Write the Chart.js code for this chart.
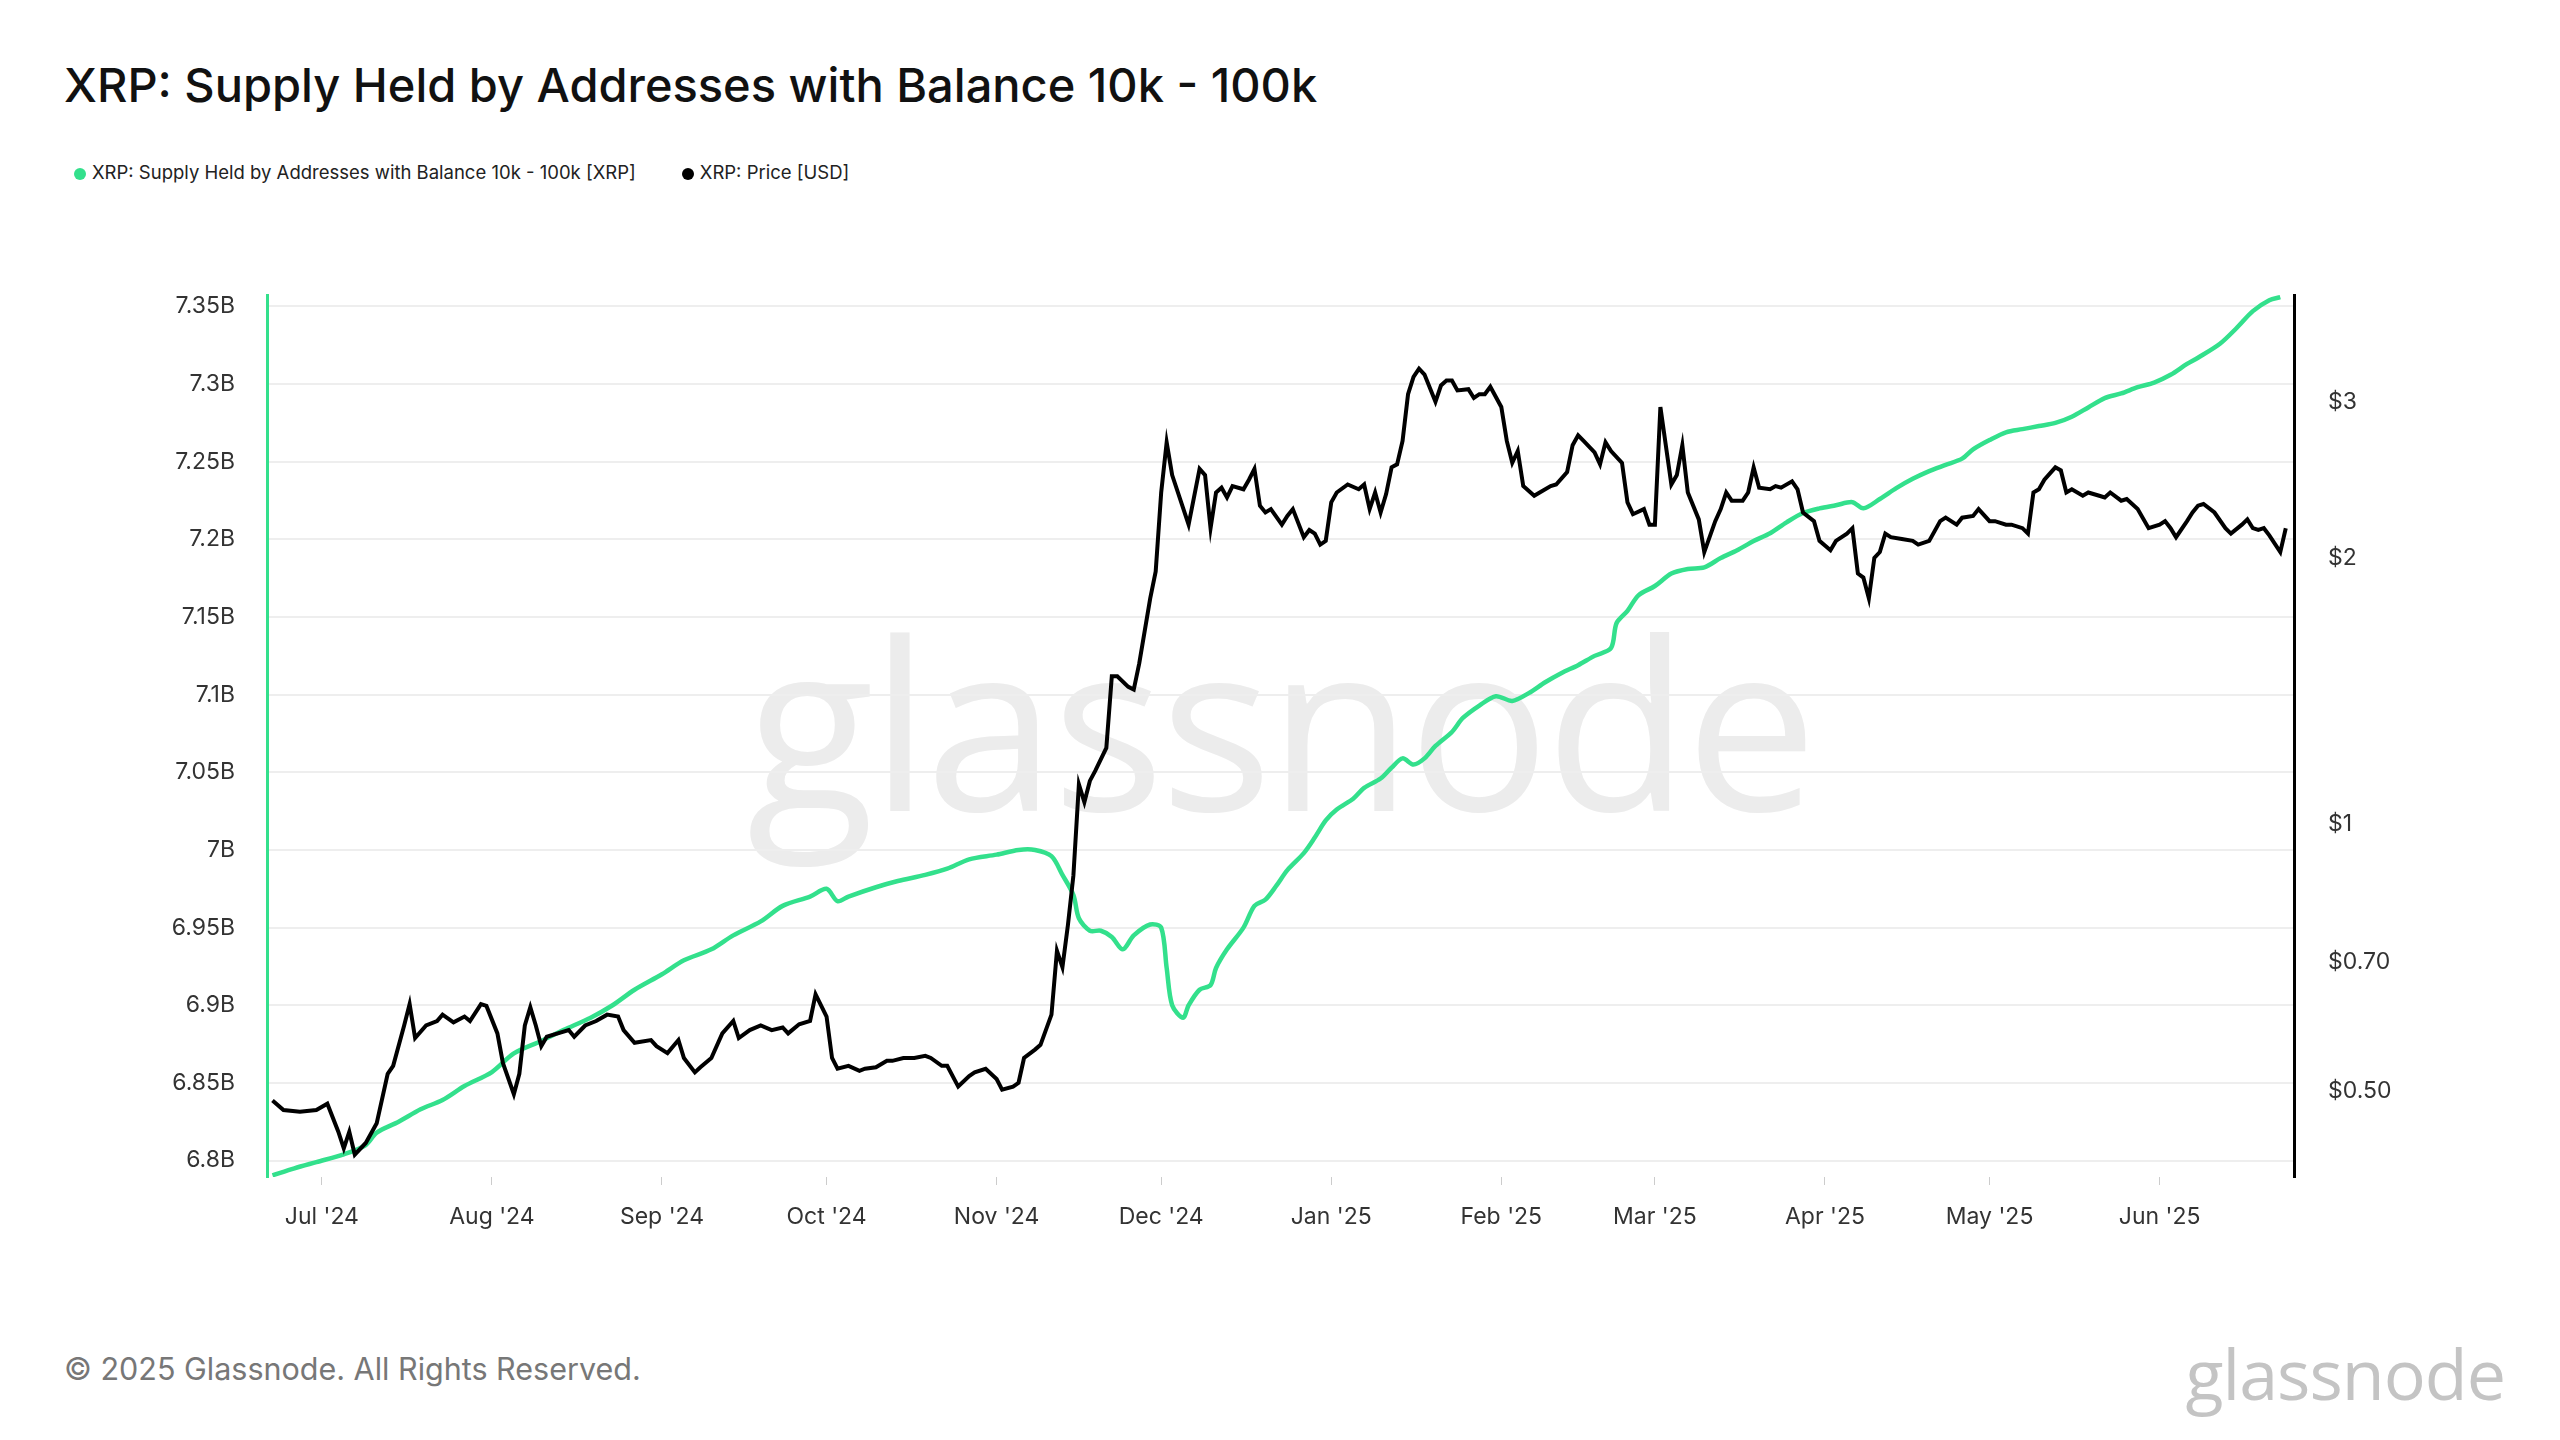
<!DOCTYPE html>
<html><head><meta charset="utf-8">
<script src="https://cdn.jsdelivr.net/npm/chart.js@4/dist/chart.umd.min.js"></script>
<style>
html,body{margin:0;padding:0;background:#fff;width:2560px;height:1440px;overflow:hidden;font-family:Inter,"Liberation Sans",sans-serif;}
#wm{position:absolute;left:0;width:2560px;text-align:center;top:560px;font-size:235px;color:#ececec;font-family:"Open Sans",Inter,sans-serif;letter-spacing:-4px;}
#title{position:absolute;left:64px;top:56px;font-size:47px;color:#111;font-weight:500;}
#legend{position:absolute;left:74px;top:161px;font-size:18.5px;color:#222;}
#legend span.d{display:inline-block;width:12px;height:12px;border-radius:50%;margin-right:6px;vertical-align:-1px;}
#foot{position:absolute;left:64px;top:1350px;font-size:30.5px;color:#777;}
#logo{position:absolute;right:55px;top:1325px;font-size:70px;color:#c4c4c4;font-family:"Open Sans",Inter,sans-serif;letter-spacing:-1px;}
canvas{position:absolute;left:0;top:0;}
</style></head><body>
<div id="wm">glassnode</div>
<div id="title">XRP: Supply Held by Addresses with Balance 10k - 100k</div>
<div id="legend"><span class="d" style="background:#33e08c"></span>XRP: Supply Held by Addresses with Balance 10k - 100k [XRP]<span style="display:inline-block;width:46px"></span><span class="d" style="background:#000"></span>XRP: Price [USD]</div>
<div id="foot">© 2025 Glassnode. All Rights Reserved.</div>
<div id="logo">glassnode</div>
<canvas id="c" width="2560" height="1440"></canvas>
<script>
// x values: days since 2024-07-01
const monthDays = [0,31,62,92,123,153,184,215,243,274,304,335];
const monthLabels = ["Jul '24","Aug '24","Sep '24","Oct '24","Nov '24","Dec '24","Jan '25","Feb '25","Mar '25","Apr '25","May '25","Jun '25"];
const supplyTicks = [6.8,6.85,6.9,6.95,7,7.05,7.1,7.15,7.2,7.25,7.3,7.35];
const priceTicks = [0.5,0.7,1,2,3];
const priceTickLabels = ["$0.50","$0.70","$1","$2","$3"];

const priceDays = [
-9,-7,-4,-1,1,3,4,5,6,8,
10,12,13,15,16,17,19,21,22,24,
26,27,29,30,32,33,35,36,37,38,
39,40,41,43,45,46,48,50,52,54,
55,57,60,61,63,65,66,68,69,71,
73,75,76,78,80,82,84,85,87,89,
90,92,93,94,96,98,99,101,103,104,
106,108,110,111,113,114,116,118,119,121,
123,124,126,127,128,130,131,133,134,135,
136,137,138,139,140,141,143,144,145,147,
148,149,151,152,153,154,155,158,160,161,
162,163,164,165,166,168,169,170,171,172,
173,175,176,177,179,180,181,182,183,184,
185,187,189,190,191,192,193,194,195,196,
197,198,199,200,201,203,204,205,206,207,
209,210,211,212,213,215,216,217,218,219,
221,222,224,225,227,228,229,230,232,233,
234,235,237,238,239,241,242,243,244,246,
247,248,249,251,252,254,255,256,257,259,
260,261,262,264,265,266,268,269,270,272,
273,275,276,278,279,280,281,282,283,284,
285,286,288,290,291,293,295,296,298,299,
301,302,304,305,307,308,310,311,312,313,
314,316,317,318,319,321,322,324,325,326,
328,329,330,331,333,335,336,337,338,340,
341,342,343,345,347,348,350,351,352,353,
354,355,357,358];
const priceUsd = [
0.488,0.476,0.474,0.476,0.484,0.45,0.431,0.45,0.424,0.437,
0.46,0.523,0.534,0.593,0.627,0.574,0.593,0.60,0.61,0.598,
0.607,0.60,0.627,0.624,0.581,0.538,0.496,0.523,0.593,0.622,
0.593,0.562,0.576,0.581,0.586,0.576,0.593,0.60,0.61,0.607,
0.586,0.567,0.571,0.562,0.552,0.571,0.545,0.525,0.532,0.545,
0.581,0.60,0.574,0.586,0.593,0.586,0.59,0.581,0.595,0.60,
0.643,0.607,0.545,0.53,0.534,0.527,0.53,0.532,0.541,0.541,
0.545,0.545,0.548,0.545,0.534,0.534,0.506,0.52,0.525,0.53,
0.516,0.502,0.506,0.511,0.545,0.557,0.564,0.61,0.72,0.69,
0.77,0.876,1.11,1.06,1.12,1.15,1.22,1.47,1.47,1.43,
1.42,1.52,1.80,1.93,2.37,2.70,2.48,2.18,2.52,2.48,
2.16,2.37,2.40,2.34,2.41,2.39,2.45,2.52,2.29,2.25,
2.27,2.18,2.23,2.27,2.11,2.15,2.13,2.07,2.09,2.31,
2.37,2.42,2.39,2.42,2.27,2.37,2.25,2.36,2.53,2.55,
2.71,3.06,3.20,3.27,3.22,3.00,3.13,3.17,3.17,3.09,
3.10,3.03,3.06,3.06,3.12,2.96,2.71,2.56,2.64,2.41,
2.35,2.37,2.41,2.42,2.50,2.68,2.75,2.71,2.63,2.55,
2.70,2.64,2.56,2.31,2.24,2.27,2.18,2.18,2.96,2.42,
2.48,2.68,2.37,2.21,2.03,2.20,2.27,2.37,2.32,2.32,
2.37,2.53,2.40,2.39,2.41,2.40,2.44,2.39,2.25,2.20,
2.09,2.04,2.09,2.13,2.16,1.92,1.90,1.80,2.00,2.03,
2.13,2.11,2.10,2.09,2.07,2.09,2.20,2.22,2.18,2.22,
2.23,2.27,2.20,2.20,2.18,2.18,2.16,2.13,2.37,2.39,
2.45,2.53,2.51,2.37,2.39,2.35,2.37,2.35,2.34,2.37,
2.32,2.33,2.30,2.27,2.16,2.18,2.20,2.16,2.11,2.20,
2.25,2.29,2.30,2.25,2.16,2.13,2.18,2.21,2.16,2.15,
2.16,2.12,2.03,2.16];

const supplyDays = [
-9,-5,-1,4,8,10,14,18,22,26,
31,35,40,44,49,53,57,62,66,71,
75,80,84,89,92,94,96,101,105,110,
114,118,123,127,130,133,135,137,138,140,
142,144,146,148,151,153,154,155,157,158,
160,162,163,165,168,170,172,174,176,179,
181,183,185,188,190,193,195,197,199,201,
203,206,208,211,214,217,220,223,226,229,
232,235,236,238,240,243,246,249,252,255,
258,261,264,267,270,273,276,279,281,284,
287,290,293,296,299,301,304,307,310,313,
316,319,322,325,328,331,334,337,340,342,
346,349,352,355,357];
const supplyB = [
6.7905,6.795,6.799,6.804,6.810,6.818,6.825,6.833,6.839,6.848,
6.857,6.869,6.877,6.884,6.892,6.900,6.910,6.920,6.929,6.936,
6.945,6.954,6.964,6.970,6.975,6.967,6.970,6.976,6.980,6.984,
6.988,6.994,6.997,7.000,7.000,6.996,6.984,6.971,6.956,6.948,
6.948,6.944,6.936,6.945,6.952,6.950,6.924,6.900,6.892,6.900,
6.910,6.913,6.924,6.936,6.950,6.964,6.968,6.977,6.987,6.998,
7.008,7.019,7.026,7.033,7.040,7.046,7.053,7.059,7.055,7.059,
7.067,7.076,7.085,7.093,7.099,7.096,7.101,7.108,7.114,7.119,
7.125,7.130,7.146,7.154,7.164,7.170,7.178,7.181,7.182,7.188,
7.193,7.199,7.204,7.211,7.217,7.220,7.222,7.224,7.220,7.226,
7.233,7.239,7.244,7.248,7.252,7.258,7.264,7.269,7.271,7.273,
7.275,7.279,7.285,7.291,7.294,7.298,7.301,7.306,7.313,7.317,
7.326,7.336,7.347,7.354,7.356];

const tickFont = {family:"Inter, 'Liberation Sans', sans-serif", size:23};
new Chart(document.getElementById('c'), {
  type:'line',
  data:{datasets:[
    {label:'Price', data:priceDays.map((d,i)=>({x:d,y:priceUsd[i]})), yAxisID:'yP', borderColor:'#000', borderWidth:4, pointRadius:0, tension:0, order:1},
    {label:'Supply', data:supplyDays.map((d,i)=>({x:d,y:supplyB[i]})), yAxisID:'yS', borderColor:'#33e08c', borderWidth:4.5, pointRadius:0, tension:0.3, order:2}
  ]},
  options:{
    responsive:false, animation:false, devicePixelRatio:1,
    layout:{padding:{top:295,left:0,right:0,bottom:0}},
    plugins:{legend:{display:false}, tooltip:{enabled:false}},
    scales:{
      x:{type:'linear', min:-10, max:359.5,
        afterBuildTicks:s=>{s.ticks=monthDays.map(v=>({value:v}));},
        afterFit:s=>{s.height=263;},
        ticks:{font:tickFont, color:'#333', padding:18, maxRotation:0, autoSkip:false,
          callback:(v)=>{const i=monthDays.indexOf(v);return i>=0?monthLabels[i]:'';}},
        grid:{display:true, drawOnChartArea:false, drawTicks:true, tickLength:8, color:'#ccc'},
        border:{display:false}},
      yS:{type:'linear', position:'left', min:6.7894, max:7.3574,
        afterBuildTicks:s=>{s.ticks=supplyTicks.map(v=>({value:v}));},
        afterFit:s=>{s.width=267;},
        ticks:{font:tickFont, color:'#333', padding:32, callback:v=>(+v.toFixed(2))+'B'},
        grid:{color:'#eeeeee', lineWidth:2, drawTicks:false},
        border:{color:'#33e08c', width:3}},
      yP:{type:'logarithmic', position:'right', min:0.40, max:3.96,
        afterBuildTicks:s=>{s.ticks=priceTicks.map(v=>({value:v}));},
        afterFit:s=>{s.width=266;},
        ticks:{font:tickFont, color:'#333', padding:26, callback:v=>{const i=priceTicks.indexOf(v);return i>=0?priceTickLabels[i]:'';}},
        grid:{display:false},
        border:{color:'#000', width:3}}
    }
  }
});
</script>
</body></html>
